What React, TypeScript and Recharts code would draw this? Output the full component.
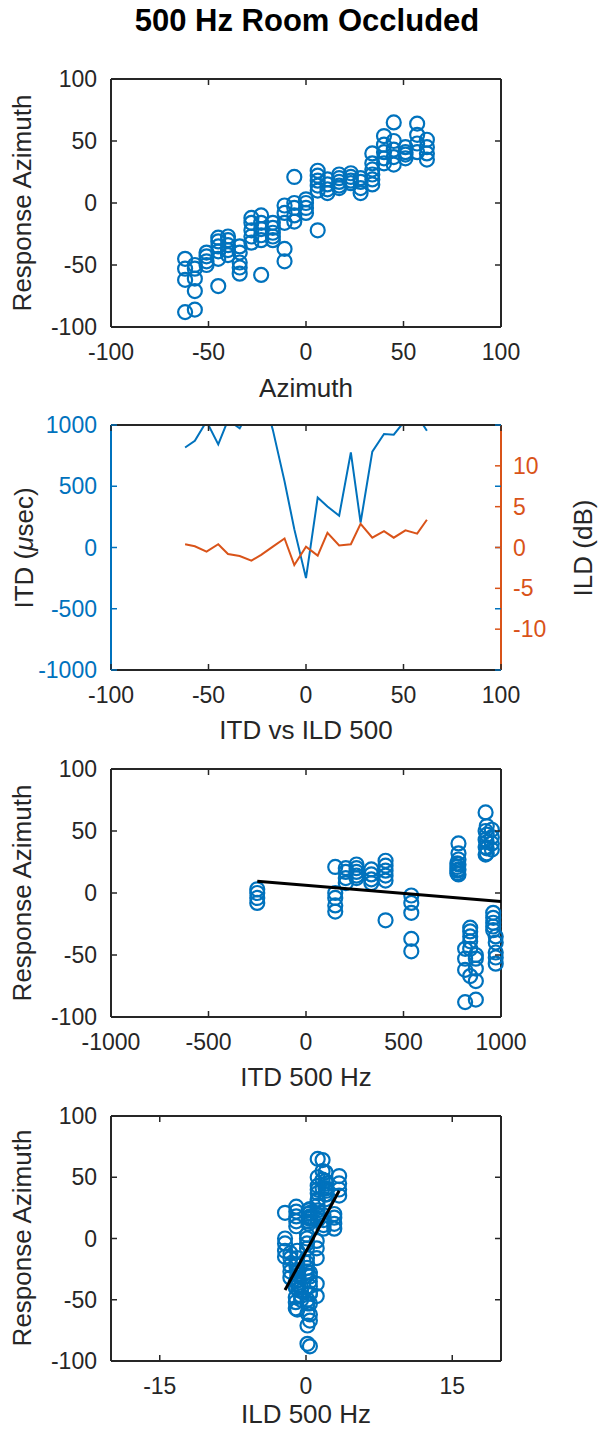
import { ScatterChart, Scatter, LineChart, Line, XAxis, YAxis, ReferenceLine } from "recharts";

// Azimuth grid of the 500 Hz occluded-room condition (deg)
const AZIMUTHS = [-62, -57, -51, -45, -40, -34, -28, -23, -17, -11, -6, 0, 6, 11, 17, 23, 28, 34, 40, 45, 51, 57, 62];
// Interaural time difference per azimuth (usec)
const ITD_500 = [816, 871, 1030, 842, 1040, 973, 1150, 1300, 960, 540, 150, -250, 408, 335, 259, 776, 204, 782, 927, 921, 1040, 1075, 953];
// Interaural level difference per azimuth (dB)
const ILD_500 = [0.4, 0.15, -0.5, 0.4, -0.8, -1.05, -1.6, -0.9, 0.1, 1.1, -2.15, 0.1, -1.0, 1.8, 0.25, 0.4, 2.9, 1.2, 2.0, 1.2, 2.1, 1.7, 3.4];
// Listener responses for each azimuth (deg)
const RESPONSES = [
  [-45, -53, -62, -88],
  [-50, -53, -61, -71, -86],
  [-40, -43, -47, -50],
  [-28, -31, -35, -39, -45, -67],
  [-27, -30, -34, -38, -42],
  [-35, -40, -48, -52, -57],
  [-12, -16, -22, -27, -32],
  [-10, -16, -21, -26, -30, -58],
  [-16, -20, -24, -27, -30],
  [-2, -8, -16, -37, -47],
  [21, 0, -4, -10, -15],
  [3, 0, -4, -8],
  [26, 22, 18, 14, 10, -22],
  [19, 15, 11, 8],
  [23, 20, 17, 14, 12],
  [24, 21, 18, 16],
  [20, 17, 12, 8],
  [40, 32, 27, 23, 19, 15],
  [54, 47, 41, 36, 32],
  [65, 50, 43, 37, 31],
  [45, 41, 39, 36],
  [64, 55, 48, 41],
  [51, 45, 40, 35],
];

const AZ_TICKS = [-100, -50, 0, 50, 100];
const RESP_TICKS = [-100, -50, 0, 50, 100];
const ITD_TICKS = [-1000, -500, 0, 500, 1000];
const ILD_TICKS = [-10, -5, 0, 5, 10];
const ILD_X_TICKS = [-15, 0, 15];

// least-squares fit lines, end points
const ITD_FIT = [{ x: -250, y: 9.5 }, { x: 1000, y: -6.8 }];
const ILD_FIT = [{ x: -2.15, y: -42 }, { x: 3.4, y: 39 }];

const BLUE = "#0072BD";
const ORANGE = "#D95319";
const AXIS = "#262626";
const FONT = "'Liberation Sans', Arial, Helvetica, sans-serif";
const TICK_FONT = 23;
const LABEL_FONT = 26;

const W = 599;
const PLOT_LEFT = 111;
const PLOT_W = 390;
const RIGHT_SPACE = W - PLOT_LEFT - PLOT_W;
const TOP_PAD = 24;
const X_AXIS_H = 60;

const azPoints = AZIMUTHS.flatMap((az, i) => RESPONSES[i].map((r) => ({ x: az, y: r })));
// points beyond the ITD axis limit are not drawn
const itdPoints = AZIMUTHS.flatMap((_, i) =>
  ITD_500[i] <= 1000 ? RESPONSES[i].map((r) => ({ x: ITD_500[i], y: r })) : []
);
const ildPoints = AZIMUTHS.flatMap((_, i) => RESPONSES[i].map((r) => ({ x: ILD_500[i], y: r })));
const cueRows = AZIMUTHS.map((az, i) => ({ az, itd: ITD_500[i], ild: ILD_500[i] }));

// inward tick marks on both bottom and top edges, label below
const xTick = (plotH: number) => (props: any) => {
  const { x, y, payload } = props;
  return (
    <g>
      <line x1={x} x2={x} y1={y} y2={y - 6} stroke={AXIS} strokeWidth={1.5} />
      <line x1={x} x2={x} y1={y - plotH} y2={y - plotH + 6} stroke={AXIS} strokeWidth={1.5} />
      <text x={x} y={y + 25} textAnchor="middle" dominantBaseline="central" fill={AXIS} fontSize={TICK_FONT} fontFamily={FONT}>
        {payload.value}
      </text>
    </g>
  );
};

const leftTick = (color: string) => (props: any) => {
  const { x, y, payload } = props;
  return (
    <g>
      <line x1={x} x2={x + 6} y1={y} y2={y} stroke={color} strokeWidth={1.5} />
      <line x1={x + PLOT_W - 6} x2={x + PLOT_W} y1={y} y2={y} stroke={color} strokeWidth={1.5} />
      <text x={x - 14} y={y} textAnchor="end" dominantBaseline="central" fill={color} fontSize={TICK_FONT} fontFamily={FONT}>
        {payload.value}
      </text>
    </g>
  );
};

const rightTick = (color: string) => (props: any) => {
  const { x, y, payload } = props;
  return (
    <g>
      <line x1={x} x2={x - 6} y1={y} y2={y} stroke={color} strokeWidth={1.5} />
      <text x={x + 12} y={y} textAnchor="start" dominantBaseline="central" fill={color} fontSize={TICK_FONT} fontFamily={FONT}>
        {payload.value}
      </text>
    </g>
  );
};

const ring = (props: any) => (
  <circle cx={props.cx} cy={props.cy} r={7} fill="none" stroke={BLUE} strokeWidth={2.2} />
);
const noDot = () => <g />;

const boxLines = (xd: number[], yd: number[]) => [
  <ReferenceLine key="l" x={xd[0]} stroke={AXIS} strokeWidth={2} />,
  <ReferenceLine key="r" x={xd[1]} stroke={AXIS} strokeWidth={2} />,
  <ReferenceLine key="t" y={yd[1]} stroke={AXIS} strokeWidth={2} />,
  <ReferenceLine key="b" y={yd[0]} stroke={AXIS} strokeWidth={2} />,
];

const Text = ({ x, y, children, rotate = false, size = LABEL_FONT, color = AXIS, bold = false }: any) => (
  <div
    style={{
      position: "absolute",
      left: x,
      top: y,
      transform: `translate(-50%, -50%)${rotate ? " rotate(-90deg)" : ""}`,
      whiteSpace: "nowrap",
      fontFamily: FONT,
      fontSize: size,
      fontWeight: bold ? 700 : 400,
      color,
      lineHeight: 1,
    }}
  >
    {children}
  </div>
);

type ScatterPanelProps = {
  top: number;
  plotH: number;
  xDomain: number[];
  xTicks: number[];
  points: { x: number; y: number }[];
  fit?: { x: number; y: number }[];
};

const ScatterPanel = ({ top, plotH, xDomain, xTicks, points, fit }: ScatterPanelProps) => (
  <div style={{ position: "absolute", left: 0, top: top - TOP_PAD }}>
    <ScatterChart width={W} height={plotH + TOP_PAD + X_AXIS_H} margin={{ top: TOP_PAD, right: RIGHT_SPACE, bottom: 0, left: 0 }}>
      <XAxis
        type="number"
        dataKey="x"
        domain={xDomain}
        ticks={xTicks}
        interval={0}
        height={X_AXIS_H}
        tickSize={0}
        tickMargin={0}
        axisLine={false}
        tickLine={false}
        tick={xTick(plotH)}
      />
      <YAxis
        type="number"
        dataKey="y"
        domain={[-100, 100]}
        ticks={RESP_TICKS}
        interval={0}
        width={PLOT_LEFT}
        tickSize={0}
        tickMargin={0}
        axisLine={false}
        tickLine={false}
        tick={leftTick(AXIS)}
      />
      <Scatter data={points} shape={ring} isAnimationActive={false} />
      {fit && <Scatter data={fit} shape={noDot} line={{ stroke: "#000", strokeWidth: 3 }} isAnimationActive={false} />}
      {boxLines(xDomain, [-100, 100])}
    </ScatterChart>
  </div>
);

const CuePanel = ({ top, plotH }: { top: number; plotH: number }) => (
  <div style={{ position: "absolute", left: 0, top: top - TOP_PAD }}>
    <LineChart width={W} height={plotH + TOP_PAD + X_AXIS_H} data={cueRows} margin={{ top: TOP_PAD, right: 0, bottom: 0, left: 0 }}>
      <XAxis
        type="number"
        dataKey="az"
        domain={[-100, 100]}
        ticks={AZ_TICKS}
        interval={0}
        height={X_AXIS_H}
        tickSize={0}
        tickMargin={0}
        axisLine={false}
        tickLine={false}
        tick={xTick(plotH)}
      />
      <YAxis
        yAxisId="itd"
        type="number"
        domain={[-1000, 1000]}
        ticks={ITD_TICKS}
        interval={0}
        allowDataOverflow
        width={PLOT_LEFT}
        tickSize={0}
        tickMargin={0}
        axisLine={false}
        tickLine={false}
        tick={leftTick(BLUE)}
      />
      <YAxis
        yAxisId="ild"
        orientation="right"
        type="number"
        domain={[-15, 15]}
        ticks={ILD_TICKS}
        interval={0}
        allowDataOverflow
        width={RIGHT_SPACE}
        tickSize={0}
        tickMargin={0}
        axisLine={false}
        tickLine={false}
        tick={rightTick(ORANGE)}
      />
      <Line yAxisId="itd" type="linear" dataKey="itd" stroke={BLUE} strokeWidth={2} dot={false} isAnimationActive={false} />
      <Line yAxisId="ild" type="linear" dataKey="ild" stroke={ORANGE} strokeWidth={2} dot={false} isAnimationActive={false} />
      <ReferenceLine yAxisId="itd" y={1000} stroke={AXIS} strokeWidth={2} />
      <ReferenceLine yAxisId="itd" y={-1000} stroke={AXIS} strokeWidth={2} />
      <ReferenceLine yAxisId="itd" x={-100} stroke={BLUE} strokeWidth={2} />
      <ReferenceLine yAxisId="ild" x={100} stroke={ORANGE} strokeWidth={2} />
    </LineChart>
  </div>
);

export default function App() {
  return (
    <div style={{ position: "absolute", left: 0, top: 0, width: W, height: 1431, background: "#fff", overflow: "hidden" }}>
      <Text x={307} y={20} size={31} bold color="#000">
        500 Hz Room Occluded
      </Text>

      <ScatterPanel top={79} plotH={248} xDomain={[-100, 100]} xTicks={AZ_TICKS} points={azPoints} />
      <Text x={22} y={203} rotate>Response Azimuth</Text>
      <Text x={306} y={388}>Azimuth</Text>

      <CuePanel top={425} plotH={245} />
      <Text x={24} y={548} rotate>
        ITD (<i>μ</i>sec)
      </Text>
      <Text x={583} y={548} rotate>ILD (dB)</Text>
      <Text x={306} y={730}>ITD vs ILD 500</Text>

      <ScatterPanel top={769} plotH={248} xDomain={[-1000, 1000]} xTicks={ITD_TICKS} points={itdPoints} fit={ITD_FIT} />
      <Text x={22} y={893} rotate>Response Azimuth</Text>
      <Text x={306} y={1077}>ITD 500 Hz</Text>

      <ScatterPanel top={1116} plotH={245} xDomain={[-20, 20]} xTicks={ILD_X_TICKS} points={ildPoints} fit={ILD_FIT} />
      <Text x={22} y={1238} rotate>Response Azimuth</Text>
      <Text x={306} y={1414}>ILD 500 Hz</Text>
    </div>
  );
}
